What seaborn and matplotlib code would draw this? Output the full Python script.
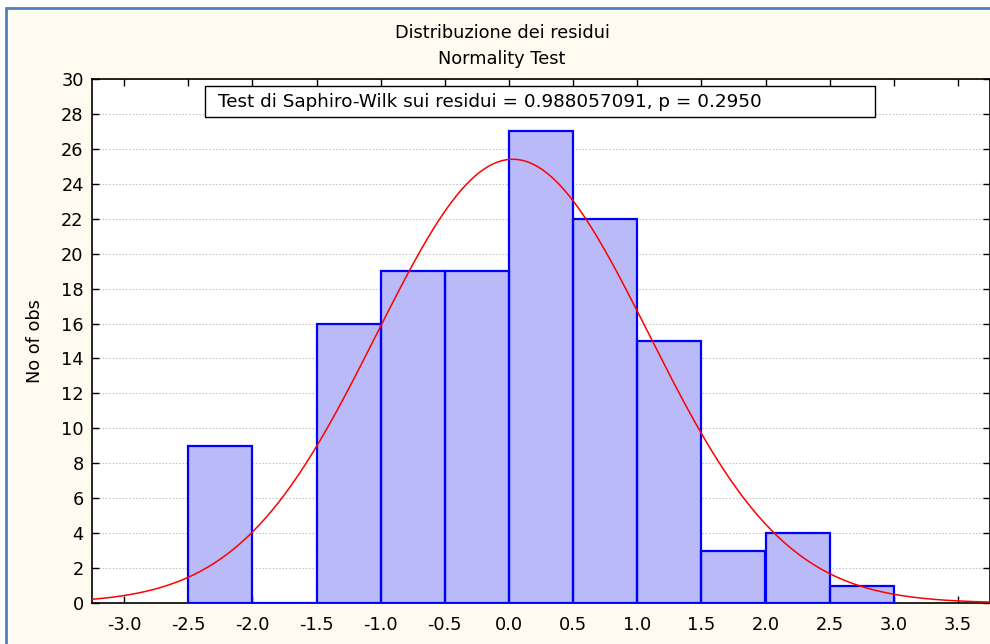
import numpy as np
import pandas as pd
import matplotlib
matplotlib.use("Agg")
import matplotlib.pyplot as plt
from matplotlib.patches import Rectangle
import seaborn as sns

# Residual histogram (bin width 0.5)
bin_edges = [-2.5, -2.0, -1.5, -1.0, -0.5, 0.0, 0.5, 1.0, 1.5, 2.0, 2.5, 3.0]
counts = [9, 0, 16, 19, 19, 27, 22, 15, 3, 4, 1]
bin_centers = [(a + b) / 2 for a, b in zip(bin_edges[:-1], bin_edges[1:])]

# Fitted normal distribution parameters
fit_mean = 0.03
fit_sd = 1.06
bin_width = 0.5

x_ticks = [-3.0, -2.5, -2.0, -1.5, -1.0, -0.5, 0.0, 0.5, 1.0, 1.5, 2.0, 2.5, 3.0, 3.5]
y_ticks = list(range(0, 31, 2))

title_lines = ["Distribuzione dei residui", "Normality Test"]
test_label = "Test di Saphiro-Wilk sui residui = 0.988057091, p = 0.2950"

sns.set_style("ticks")
plt.rcParams["font.family"] = ["DejaVu Sans"]
plt.rcParams["text.color"] = "black"
plt.rcParams["axes.labelcolor"] = "black"
plt.rcParams["hatch.linewidth"] = 0.5

FS = 12.8

fig = plt.figure(figsize=(9.9, 6.44), dpi=100, facecolor="white")

# Cream panel with blue frame
W, H = 990, 644
fig.patches.append(Rectangle((6 / W, -0.05), 1.1, 1 - 8 / H + 0.05,
                             transform=fig.transFigure, facecolor="#fffbf0",
                             edgecolor="#4f81bd", linewidth=2.0, zorder=-10))

ax = fig.add_axes([92 / W, 1 - 603 / H, 898 / W, (603 - 79) / H])
ax.set_facecolor("white")

df = pd.DataFrame({"centro": bin_centers, "n": counts})

sns.histplot(data=df, x="centro", weights="n", bins=bin_edges, ax=ax,
             color="#cfcfff", alpha=1, zorder=2)

# Hatched lavender fill, then a solid blue outline on top of each bar
bars = list(ax.patches)
for p in bars:
    p.set_facecolor("#cfcfff")
    p.set_edgecolor("#b2b2f6")
    p.set_hatch("/" * 24)
    p.set_linewidth(0)
    ax.add_patch(Rectangle(p.get_xy(), p.get_width(), p.get_height(),
                           facecolor="none", edgecolor="#0000ff",
                           linewidth=1.6, zorder=3))

# Expected counts under the fitted normal curve
xs = np.linspace(-3.25, 3.75, 400)
expected = sum(counts) * bin_width * np.exp(-0.5 * ((xs - fit_mean) / fit_sd) ** 2) / (fit_sd * np.sqrt(2 * np.pi))
sns.lineplot(x=xs, y=expected, ax=ax, color="#ff0000", linewidth=1.1, zorder=4)

ax.set_xlim(-3.25, 3.75)
ax.set_ylim(0, 30)
ax.set_xticks(x_ticks)
ax.set_xticklabels([f"{t:.1f}" for t in x_ticks])
ax.set_yticks(y_ticks)
ax.yaxis.grid(True, linestyle=(0, (1.5, 1.5)), color="#c8c8c8", linewidth=0.8, zorder=0)
ax.xaxis.grid(False)
ax.set_axisbelow(True)
ax.tick_params(direction="in", length=5, width=1, colors="black", labelsize=FS,
               top=True, right=True, pad=6)
ax.tick_params(axis="x", pad=9)
for s in ax.spines.values():
    s.set_color("black")
    s.set_linewidth(1.2)
ax.set_xlabel("")
ax.set_ylabel("No of obs", fontsize=FS, labelpad=12)

# Test result box
ax.add_patch(Rectangle((0.1258, 0.9275), 0.872 - 0.1258, 0.9866 - 0.9275,
                       transform=ax.transAxes, facecolor="white", edgecolor="black",
                       linewidth=1.0, zorder=6))
ax.text(0.1403, 0.957, test_label, transform=ax.transAxes, fontsize=13.2,
        va="center", ha="left", zorder=7)

fig.text(502 / W, 1 - 33 / H, title_lines[0], ha="center", va="center", fontsize=FS)
fig.text(502 / W, 1 - 59 / H, title_lines[1], ha="center", va="center", fontsize=FS)

fig.savefig("out.png", dpi=100, facecolor="white")
